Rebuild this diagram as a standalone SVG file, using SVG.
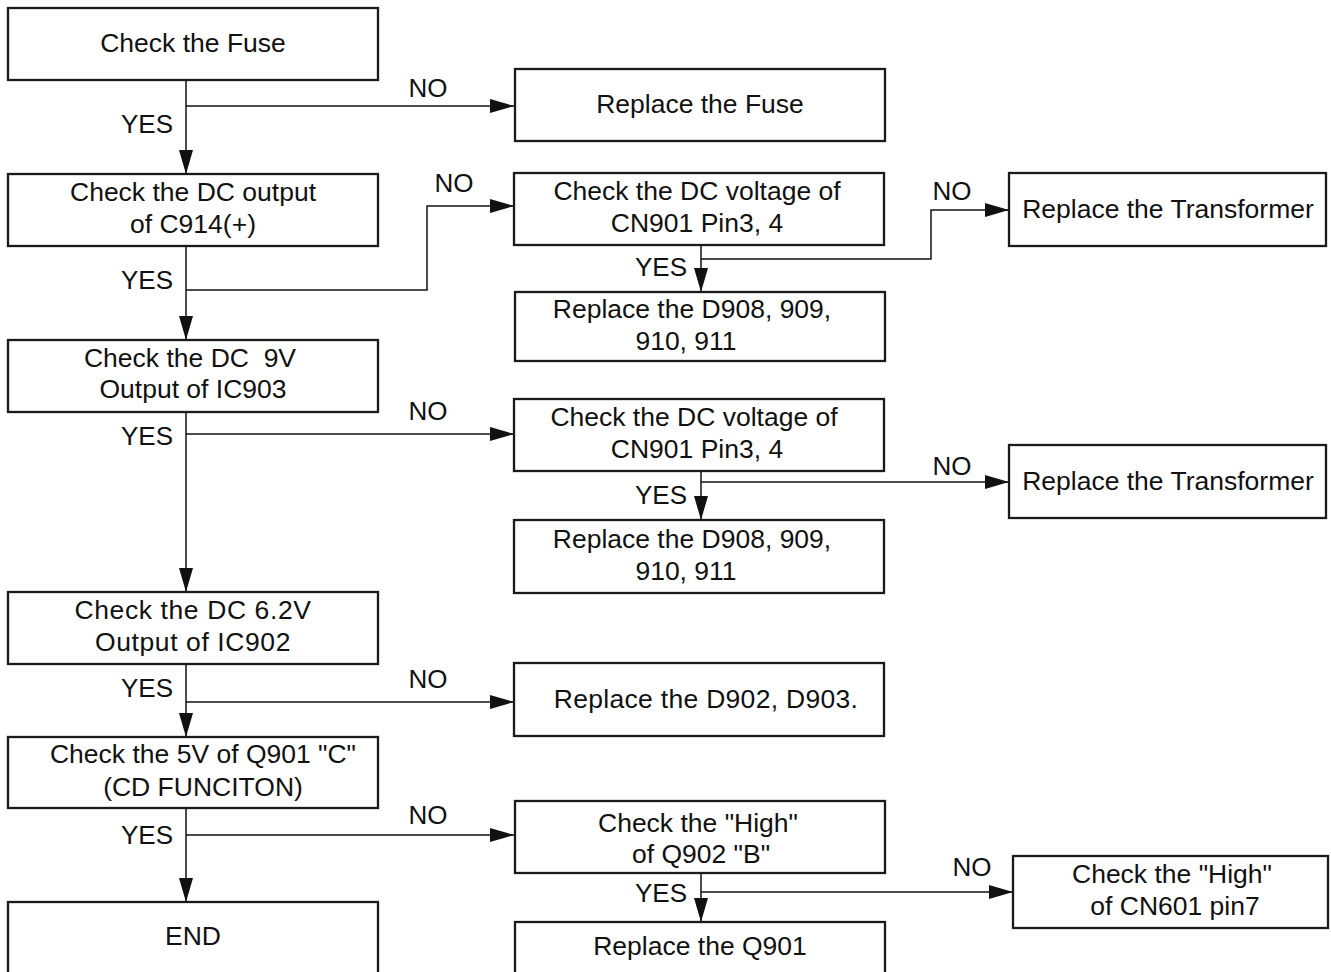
<svg xmlns="http://www.w3.org/2000/svg" width="1331" height="972" viewBox="0 0 1331 972">
  <style>
    .box { fill: #ffffff; stroke: #1a1a1a; stroke-width: 2.3; }
    .t { font-family: "Liberation Sans", Arial, Helvetica, sans-serif; font-size: 26.5px; fill: #111111; text-anchor: middle; }
    .lbl { font-family: "Liberation Sans", Arial, Helvetica, sans-serif; font-size: 26px; fill: #111111; }
    .end { text-anchor: end; }
    .mid { text-anchor: middle; }
    .wire { fill: none; stroke: #111111; stroke-width: 1.5; marker-end: url(#arrow); }
  </style>
  <defs>
    <marker id="arrow" markerUnits="userSpaceOnUse" markerWidth="24" markerHeight="16" viewBox="0 0 24 16" refX="24" refY="8" orient="auto">
      <path d="M0,1 L24,8 L0,15 Z" fill="#111111"/>
    </marker>
  </defs>
  <rect width="1331" height="972" fill="#ffffff"/>

  <!-- connectors -->
  <g id="connectors">
    <path class="wire" d="M186,80 V174"/>
    <path class="wire" d="M186,106 H514"/>
    <path class="wire" d="M186,246 V340"/>
    <path class="wire" d="M186,290 H427 V206 H514"/>
    <path class="wire" d="M701,245 V292"/>
    <path class="wire" d="M701,259 H931 V210 H1009"/>
    <path class="wire" d="M186,412 V592"/>
    <path class="wire" d="M186,434 H514"/>
    <path class="wire" d="M701,471 V520"/>
    <path class="wire" d="M701,482 H1009"/>
    <path class="wire" d="M186,664 V737"/>
    <path class="wire" d="M186,702 H514"/>
    <path class="wire" d="M186,808 V902"/>
    <path class="wire" d="M186,835 H514"/>
    <path class="wire" d="M701,873 V922"/>
    <path class="wire" d="M701,892 H1013"/>

    <text class="lbl end" x="173" y="133">YES</text>
    <text class="lbl mid" x="428" y="97">NO</text>
    <text class="lbl end" x="173" y="289">YES</text>
    <text class="lbl mid" x="454" y="192">NO</text>
    <text class="lbl end" x="687" y="276">YES</text>
    <text class="lbl mid" x="952" y="200">NO</text>
    <text class="lbl end" x="173" y="445">YES</text>
    <text class="lbl mid" x="428" y="420">NO</text>
    <text class="lbl end" x="687" y="504">YES</text>
    <text class="lbl mid" x="952" y="475">NO</text>
    <text class="lbl end" x="173" y="697">YES</text>
    <text class="lbl mid" x="428" y="688">NO</text>
    <text class="lbl end" x="173" y="844">YES</text>
    <text class="lbl mid" x="428" y="824">NO</text>
    <text class="lbl end" x="687" y="902">YES</text>
    <text class="lbl mid" x="972" y="876">NO</text>
  </g>

  <!-- main column -->
  <g id="check-fuse">
    <rect class="box" x="8" y="8" width="370" height="72"/>
    <text class="t" x="193" y="52">Check the Fuse</text>
  </g>
  <g id="check-c914">
    <rect class="box" x="8" y="174" width="370" height="72"/>
    <text class="t" x="193" y="201">Check the DC output</text>
    <text class="t" x="193" y="233">of C914(+)</text>
  </g>
  <g id="check-ic903">
    <rect class="box" x="8" y="340" width="370" height="72"/>
    <text class="t" x="190" y="367" xml:space="preserve">Check the DC  9V</text>
    <text class="t" x="193" y="398">Output of IC903</text>
  </g>
  <g id="check-ic902">
    <rect class="box" x="8" y="592" width="370" height="72"/>
    <text class="t" x="193" y="619" letter-spacing="0.6">Check the DC 6.2V</text>
    <text class="t" x="193" y="651" letter-spacing="0.6">Output of IC902</text>
  </g>
  <g id="check-q901">
    <rect class="box" x="8" y="737" width="370" height="71"/>
    <text class="t" x="203" y="763">Check the 5V of Q901 "C"</text>
    <text class="t" x="203" y="796">(CD FUNCITON)</text>
  </g>
  <g id="end">
    <rect class="box" x="8" y="902" width="370" height="100"/>
    <text class="t" x="193" y="945">END</text>
  </g>

  <!-- branches -->
  <g id="replace-fuse">
    <rect class="box" x="515" y="69" width="370" height="72"/>
    <text class="t" x="700" y="113">Replace the Fuse</text>
  </g>
  <g id="check-cn901-a">
    <rect class="box" x="514" y="173" width="370" height="72"/>
    <text class="t" x="697" y="200">Check the DC voltage of</text>
    <text class="t" x="697" y="232">CN901 Pin3, 4</text>
  </g>
  <g id="replace-transformer-a">
    <rect class="box" x="1009" y="173" width="317" height="73"/>
    <text class="t" x="1168" y="218">Replace the Transformer</text>
  </g>
  <g id="replace-d908-a">
    <rect class="box" x="515" y="292" width="370" height="69"/>
    <text class="t" x="692" y="318">Replace the D908, 909,</text>
    <text class="t" x="686" y="350">910, 911</text>
  </g>
  <g id="check-cn901-b">
    <rect class="box" x="514" y="399" width="370" height="72"/>
    <text class="t" x="694" y="426">Check the DC voltage of</text>
    <text class="t" x="697" y="458">CN901 Pin3, 4</text>
  </g>
  <g id="replace-transformer-b">
    <rect class="box" x="1009" y="445" width="317" height="73"/>
    <text class="t" x="1168" y="490">Replace the Transformer</text>
  </g>
  <g id="replace-d908-b">
    <rect class="box" x="514" y="520" width="370" height="73"/>
    <text class="t" x="692" y="548">Replace the D908, 909,</text>
    <text class="t" x="686" y="580">910, 911</text>
  </g>
  <g id="replace-d902">
    <rect class="box" x="514" y="663" width="370" height="73"/>
    <text class="t" x="706" y="708" letter-spacing="0.3">Replace the D902, D903.</text>
  </g>
  <g id="check-q902">
    <rect class="box" x="515" y="801" width="370" height="72"/>
    <text class="t" x="698" y="832">Check the "High"</text>
    <text class="t" x="701" y="863">of Q902 "B"</text>
  </g>
  <g id="check-cn601">
    <rect class="box" x="1013" y="856" width="315" height="72"/>
    <text class="t" x="1172" y="883">Check the "High"</text>
    <text class="t" x="1175" y="915">of CN601 pin7</text>
  </g>
  <g id="replace-q901">
    <rect class="box" x="515" y="922" width="370" height="80"/>
    <text class="t" x="700" y="955">Replace the Q901</text>
  </g>
</svg>
